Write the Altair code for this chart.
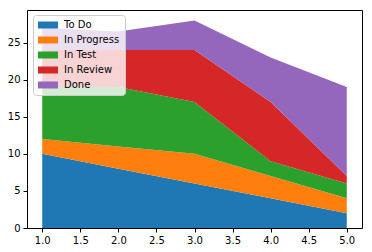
import altair as alt
import pandas as pd

x_vals = [1, 2, 3, 4, 5]
series_names = ["To Do", "In Progress", "In Test", "In Review", "Done"]
todo = [10, 8, 6, 4, 2]
in_progress = [2, 3, 4, 3, 2]
in_test = [7, 8, 7, 2, 2]
in_review = [5, 5, 7, 8, 1]
done = [3, 2.5, 4, 6, 12]
colors = ["#1f77b4", "#ff7f0e", "#2ca02c", "#d62728", "#9467bd"]
x_ticks = [1.0, 1.5, 2.0, 2.5, 3.0, 3.5, 4.0, 4.5, 5.0]
y_ticks = [0, 5, 10, 15, 20, 25]

series_values = [todo, in_progress, in_test, in_review, done]
rows = []
for i, (name, vals) in enumerate(zip(series_names, series_values)):
    for xv, v in zip(x_vals, vals):
        rows.append({"x": xv, "value": v, "status": name, "order": i})
df = pd.DataFrame(rows)

chart = alt.Chart(df).mark_area(interpolate="linear", opacity=1).encode(
    x=alt.X("x:Q", scale=alt.Scale(domain=[0.8, 5.2], nice=False, zero=False),
            axis=alt.Axis(values=x_ticks, format=".1f", title=None, grid=False)),
    y=alt.Y("value:Q", stack="zero", scale=alt.Scale(domain=[0, 29.4], nice=False),
            axis=alt.Axis(values=y_ticks, title=None, grid=False)),
    color=alt.Color("status:N", scale=alt.Scale(domain=series_names, range=colors),
                    legend=alt.Legend(title=None, orient="none", legendX=6, legendY=5,
                                      symbolType="M-1,-0.7L3,-0.7L3,0.7L-1,0.7Z",
                                      symbolSize=100, symbolStrokeWidth=0, symbolOpacity=1,
                                      labelFont="DejaVu Sans", labelFontSize=10, labelColor="#000",
                                      rowPadding=5, padding=5, labelOffset=16,
                                      fillColor="rgba(255,255,255,0.8)", strokeColor="#cccccc",
                                      cornerRadius=3)),
    order=alt.Order("order:Q"),
).properties(
    width=335, height=218,
    padding={"left": 27, "top": 10, "right": 10, "bottom": 24},
    autosize=alt.AutoSizeParams(type="none"),
).configure_view(
    stroke="#000", strokeWidth=1
).configure_axis(
    domain=False, tickColor="#000", tickSize=4, tickWidth=1,
    labelFont="DejaVu Sans", labelFontSize=10, labelColor="#000", labelPadding=3
)

chart.save("out.html", embed_options={"renderer": "svg", "actions": False})
